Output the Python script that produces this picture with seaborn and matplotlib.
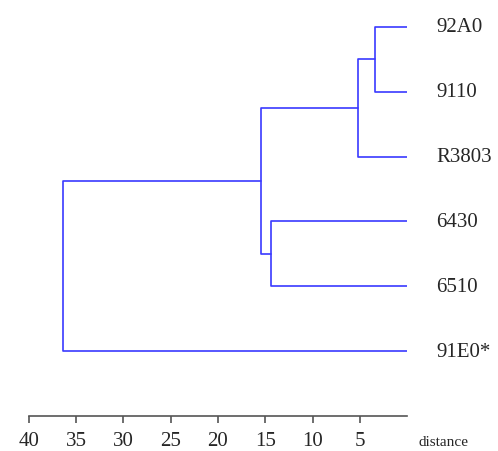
import pandas as pd
import matplotlib
matplotlib.use('Agg')
import matplotlib.pyplot as plt
import seaborn as sns

# leaves in display order (top to bottom)
leaves = ['92A0', '9110', 'R3803', '6430', '6510', '91E0*']
# merges: (child a, child b, distance); new node ids start at len(leaves)
merge_a = [0, 6, 3, 7, 9]
merge_b = [1, 2, 4, 8, 5]
merge_dist = [3.4, 5.2, 14.4, 15.4, 36.4]
ticks = [40, 35, 30, 25, 20, 15, 10, 5]

sns.set_style('white')
plt.rcParams['font.family'] = ['Liberation Serif', 'DejaVu Serif']

# node positions: x = distance, y = leaf row
pos = {i: (0.0, float(i)) for i in range(len(leaves))}
rows = []
for k, (a, b, d) in enumerate(zip(merge_a, merge_b, merge_dist)):
    xa, ya = pos[a]
    xb, yb = pos[b]
    for x, y in [(xa, ya), (d, ya), (d, yb), (xb, yb)]:
        rows.append({'seg': k, 'x': x, 'y': y})
    pos[len(leaves) + k] = (d, (ya + yb) / 2)
segs = pd.DataFrame(rows)

fig = plt.figure(figsize=(4.98, 4.52), dpi=100)
ax = fig.add_axes([29 / 498, 35 / 452, 378 / 498, 417 / 452])
sns.lineplot(data=segs, x='x', y='y', units='seg', estimator=None, sort=False,
             color='#3a3aff', linewidth=1.2, ax=ax, legend=False)

ax.set_xlim(40, 0)
ax.set_ylim(6.0, -0.43)
for i, name in enumerate(leaves):
    ax.text(-3.1, i, name, ha='left', va='center', fontsize=15, clip_on=False)

ax.set_xticks(ticks)
ax.set_xticklabels([str(t) for t in ticks], fontsize=15)
ax.set_yticks([])
ax.set_xlabel('')
ax.set_ylabel('')
for s in ['top', 'right', 'left']:
    ax.spines[s].set_visible(False)
ax.spines['bottom'].set_color('#555555')
ax.spines['bottom'].set_linewidth(1.2)
ax.tick_params(axis='x', direction='out', length=5, width=1.2, color='#555555', pad=6, bottom=True)
ax.text(-1.2, 6.3, 'distance', ha='left', va='top', fontsize=11, clip_on=False)

fig.savefig('out.png', dpi=100)
